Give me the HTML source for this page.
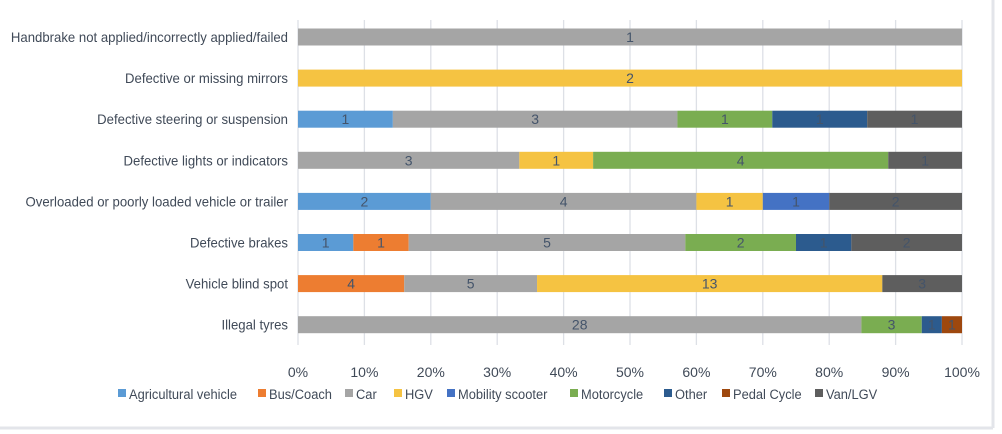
<!DOCTYPE html><html><head><style>body{margin:0;background:#fff}svg{display:block;font-family:"Liberation Sans",sans-serif}</style></head><body>
<svg id="s" width="1002" height="434" xmlns="http://www.w3.org/2000/svg">
<rect x="0" y="0" width="993" height="427" fill="#fff"/>
<line x1="0" y1="428" x2="993" y2="428" stroke="#e3e5ea" stroke-width="3"/>
<line x1="993" y1="0" x2="993" y2="428" stroke="#e3e5ea" stroke-width="3"/>
<g id="g"></g>
</svg>
<script>
var C={A:"#5b9bd5",B:"#ed7d31",C:"#a5a5a5",H:"#f5c342",M:"#4472c4",O:"#7aad51",T:"#2c5b8e",P:"#9e480e",V:"#5e5e5e"};
var rows=[["Handbrake not applied/incorrectly applied/failed",[["C",1]]],
["Defective or missing mirrors",[["H",2]]],
["Defective steering or suspension",[["A",1],["C",3],["O",1],["T",1],["V",1]]],
["Defective lights or indicators",[["C",3],["H",1],["O",4],["V",1]]],
["Overloaded or poorly loaded vehicle or trailer",[["A",2],["C",4],["H",1],["M",1],["V",2]]],
["Defective brakes",[["A",1],["B",1],["C",5],["O",2],["T",1],["V",2]]],
["Vehicle blind spot",[["B",4],["C",5],["H",13],["V",3]]],
["Illegal tyres",[["C",28],["O",3],["T",1],["P",1]]]];
var x0=298,W=664,h="";
for(var i=0;i<=10;i++){var x=x0+W*i/10;h+='<line x1="'+x+'" y1="20" x2="'+x+'" y2="345" stroke="#dde0e6" stroke-width="1.3"/>';
h+='<text x="'+x+'" y="377" font-size="14" fill="#404a58" text-anchor="middle">'+(i*10)+'%</text>';}
rows.forEach(function(r,i){var yc=37+i*41.1,t=0;r[1].forEach(function(s){t+=s[1]});var cx=x0;
h+='<g transform="translate(288,0) scale(0.94,1)"><text x="0" y="'+(yc+5)+'" font-size="14" fill="#404a58" text-anchor="end">'+r[0]+'</text></g>';
r[1].forEach(function(s){var w=W*s[1]/t;h+='<rect x="'+cx+'" y="'+(yc-8.5)+'" width="'+w+'" height="17" fill="'+C[s[0]]+'"/>';
h+='<text x="'+(cx+w/2)+'" y="'+(yc+5)+'" font-size="14" fill="#44546a" text-anchor="middle">'+s[1]+'</text>';cx+=w;});});
var lg=[["A","Agricultural vehicle",118],["B","Bus/Coach",258],["C","Car",345],["H","HGV",394],["M","Mobility scooter",447],["O","Motorcycle",570],["T","Other",664],["P","Pedal Cycle",722],["V","Van/LGV",815]];
lg.forEach(function(l){h+='<rect x="'+l[2]+'" y="389" width="8" height="8" fill="'+C[l[0]]+'"/><g transform="translate('+(l[2]+11)+',0) scale(0.92,1)"><text x="0" y="399" font-size="14" fill="#404a58">'+l[1]+'</text></g>';});
document.getElementById("g").innerHTML=h;
</script></body></html>
